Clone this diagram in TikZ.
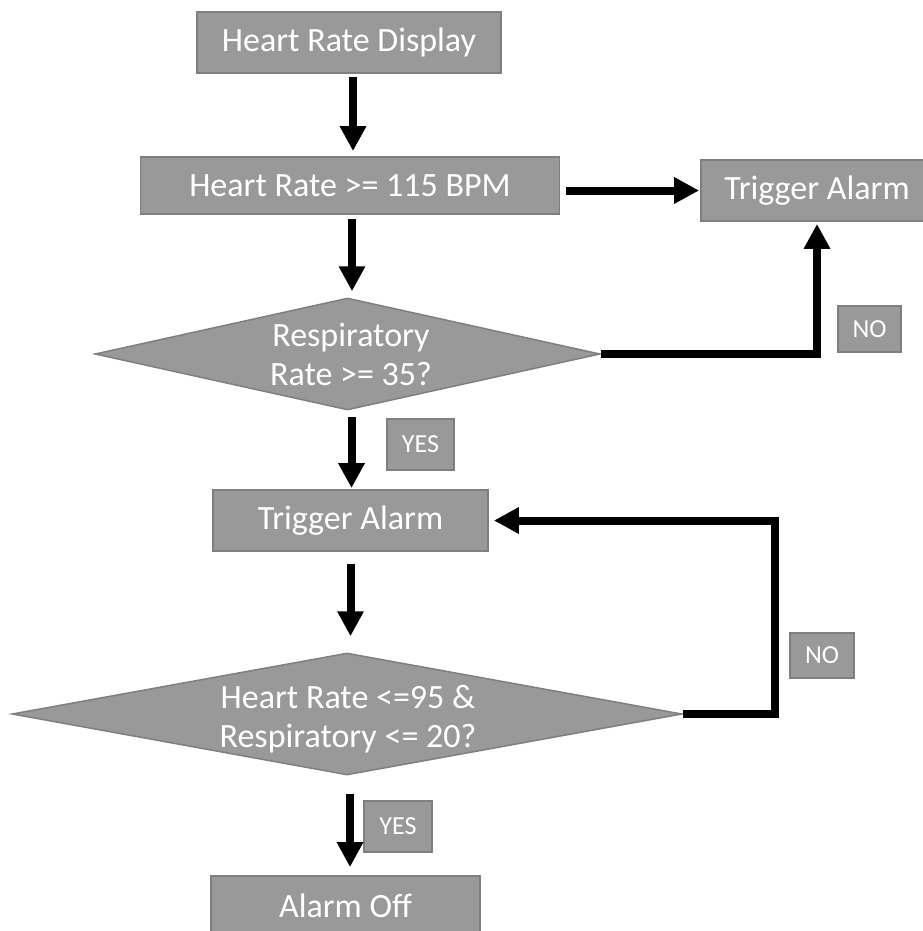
\documentclass[tikz,border=0pt]{standalone}
\usepackage{fontspec}
\setmainfont{Carlito}
\usetikzlibrary{arrows.meta,shapes.geometric}
\definecolor{boxfill}{HTML}{999999}
\definecolor{boxline}{HTML}{7F7F7F}
\begin{document}
\begin{tikzpicture}[x=1pt,y=-1pt,
  stepbox/.style={draw=boxline, line width=1.8pt, fill=boxfill, text=white,
    inner sep=0pt, font=\fontsize{34}{39}\selectfont},
  tagbox/.style={draw=boxline, line width=1.8pt, fill=boxfill, text=white,
    inner sep=0pt, font=\fontsize{26}{29}\selectfont},
  decision/.style={diamond, draw=boxline, line width=1.5pt, fill=boxfill, inner sep=0pt},
  decisiontext/.style={text=white, align=center, inner sep=0pt,
    font=\fontsize{34}{39}\selectfont},
  arr/.style={line width=8pt, -{Triangle[width=25pt,length=25pt]}},
]
\useasboundingbox (0,0) rectangle (922,931);

% process boxes
\node[stepbox, minimum width=304pt, minimum height=61pt] (hrd) at (349,42.5) {Heart Rate Display};
\node[stepbox, minimum width=419pt, minimum height=57pt] (hr115) at (350,185.5) {Heart Rate >= 115 BPM};
\node[stepbox, minimum width=232pt, minimum height=61pt] (ta1) at (817,190.5) {Trigger Alarm};
\node[stepbox, minimum width=275pt, minimum height=61pt] (ta2) at (350.5,520.5) {Trigger Alarm};
\node[stepbox, minimum width=269pt, minimum height=60pt] (off) at (345.5,906) {Alarm Off};

% decisions
\node[decision, minimum width=505pt, minimum height=112pt] (d1) at (347.5,354) {};
\node[decisiontext] (d1t) at (351,354.5) {Respiratory\\Rate >= 35?};
\node[decision, minimum width=670pt, minimum height=122pt] (d2) at (347,714) {};
\node[decisiontext] (d2t) at (348,719.5) {Heart Rate <=95 \&\\Respiratory <= 20?};

% branch tags
\node[tagbox, minimum width=67pt, minimum height=51pt] (yes1) at (420.5,444.5) {YES};
\node[tagbox, minimum width=63pt, minimum height=46pt] (no1) at (869.5,329) {NO};
\node[tagbox, minimum width=64pt, minimum height=45pt] (no2) at (822,655.5) {NO};
\node[tagbox, minimum width=68pt, minimum height=51pt] (yes2) at (398,826.5) {YES};

% flow arrows
\draw[arr, shorten <=3pt, shorten >=5pt] ([xshift=4pt]hrd.south) -- ([xshift=4pt]hrd.south |- hr115.north);
\draw[arr, shorten <=4pt, shorten >=6pt] ([xshift=2pt]hr115.south) -- ([xshift=2pt]hr115.south |- d1.north);
\draw[arr, shorten <=6pt, shorten >=1pt] ([xshift=4pt]d1.south) -- ([xshift=4pt]d1.south |- ta2.north);
\draw[arr, shorten <=12pt, shorten >=16pt] (ta2.south) -- (ta2.south |- d2.north);
\draw[arr, shorten <=18pt, shorten >=8pt] ([xshift=3pt]d2.south) -- ([xshift=3pt]d2.south |- off.north);
\draw[arr, shorten <=6pt, shorten >=1pt] (hr115.east |- ta1.west) -- (ta1.west);
\draw[arr, shorten >=2pt] (d1.east) -| (ta1.south);
\coordinate (loop) at (775,716);
\draw[arr, shorten >=5pt] (d2.east) -- (d2.east -| loop) |- (ta2.east);
\end{tikzpicture}
\end{document}
